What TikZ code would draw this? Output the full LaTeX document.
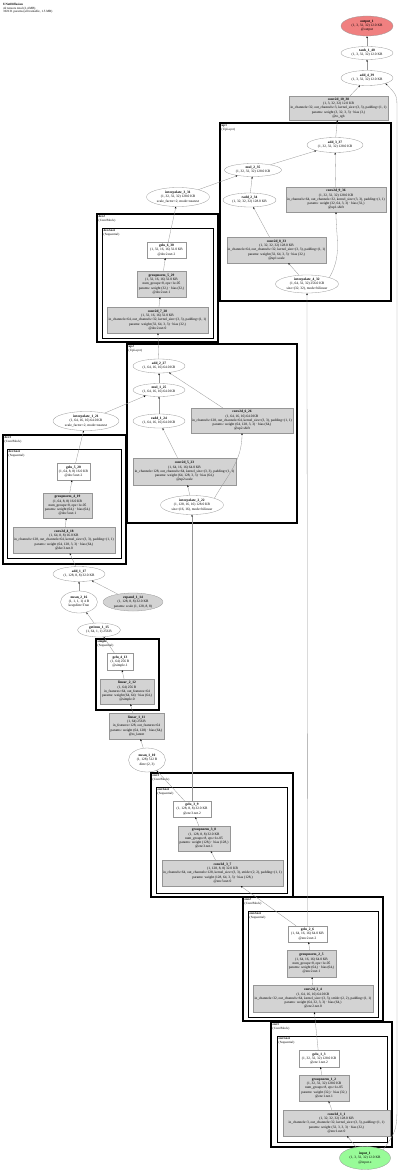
\documentclass[tikz,border=0pt]{standalone}
\usepackage{fontspec}
\setmainfont{Liberation Serif}
\usetikzlibrary{shapes.geometric,arrows.meta}
\definecolor{inputgreen}{RGB}{152,251,152}
\definecolor{outputred}{RGB}{240,128,128}
\definecolor{paramgray}{RGB}{211,211,211}
\definecolor{edgegray}{RGB}{150,150,150}

\begin{document}
\begin{tikzpicture}[x=1pt, y=-1pt,
  every node/.style={font=\fontsize{3.5}{4.2}\selectfont, align=center, inner sep=0.5pt},
  tensor/.style={draw=edgegray, ellipse, fill=white, line width=0.3pt},
  layer/.style={draw=edgegray, rectangle, fill=paramgray, line width=0.3pt},
  plain/.style={draw=edgegray, rectangle, fill=white, line width=0.3pt},
  module/.style={draw=black, line width=1.2pt},
  submodule/.style={draw=black, line width=0.9pt},
  tag/.style={anchor=north west, align=left, inner sep=0pt, font=\fontsize{3.2}{3.7}\selectfont},
  flow/.style={draw=edgegray, line width=0.3pt, -{Stealth[length=2pt,width=1.6pt,color=black]}}]
\useasboundingbox (0,0) rectangle (400,1172);

\node[tag] (title) at (3,3) {\textbf{UNetDiffusion}\\42 tensors total (2.4 MB)\\392131 params (all trainable, 1.5 MB)};

% clusters
\draw[module] (220,123) rectangle (391,301);
\node[tag] (up1_tag) at (221.5,124.5) {\textbf{up1}\\(UpLayer)};
\draw[module] (97,214) rectangle (218,342);
\node[tag] (dec2_tag) at (98.5,215.5) {\textbf{dec2}\\(ConvBlock)};
\draw[submodule] (102,228) rectangle (213,338);
\node[tag] (dec2net_tag) at (103.5,229.5) {\textbf{dec2.net}\\(Sequential)};
\draw[module] (127,344) rectangle (297,523);
\node[tag] (up2_tag) at (128.5,345.5) {\textbf{up2}\\(UpLayer)};
\draw[module] (3,435) rectangle (126,564);
\node[tag] (dec3_tag) at (4.5,436.5) {\textbf{dec3}\\(ConvBlock)};
\draw[submodule] (7,449) rectangle (121,558);
\node[tag] (dec3net_tag) at (8.5,450.5) {\textbf{dec3.net}\\(Sequential)};
\draw[module] (96,639) rectangle (159,710);
\node[tag] (simple_tag) at (97.5,640.5) {\textbf{simple}\\(Sequential)};
\draw[module] (151,773) rectangle (293,897);
\node[tag] (enc3_tag) at (152.5,774.5) {\textbf{enc3}\\(ConvBlock)};
\draw[submodule] (156,787) rectangle (287,893);
\node[tag] (enc3net_tag) at (157.5,788.5) {\textbf{enc3.net}\\(Sequential)};
\draw[module] (243,897) rectangle (383,1021);
\node[tag] (enc2_tag) at (244.5,898.5) {\textbf{enc2}\\(ConvBlock)};
\draw[submodule] (248,911) rectangle (378,1017);
\node[tag] (enc2net_tag) at (249.5,912.5) {\textbf{enc2.net}\\(Sequential)};
\draw[module] (271,1022) rectangle (392,1147);
\node[tag] (enc1_tag) at (272.5,1023.5) {\textbf{enc1}\\(ConvBlock)};
\draw[submodule] (277,1036) rectangle (387,1142);
\node[tag] (enc1net_tag) at (278.5,1037.5) {\textbf{enc1.net}\\(Sequential)};

% output side
\node[tensor, fill=outputred, minimum width=52, minimum height=20] (output_1) at (367,26) {\textbf{output\_1}\\(1, 3, 32, 32) 12.0 KB\\@output};
\node[tensor, minimum width=52, minimum height=13] (tanh_1_40) at (367,53) {\textbf{tanh\_1\_40}\\(1, 3, 32, 32) 12.0 KB};
\node[tensor, minimum width=52, minimum height=15] (add_4_39) at (367,78) {\textbf{add\_4\_39}\\(1, 3, 32, 32) 12.0 KB};
\node[layer, minimum width=99, minimum height=24] (conv2d_10_38) at (338.5,108) {\textbf{conv2d\_10\_38}\\(1, 3, 32, 32) 12.0 KB\\in\_channels=32, out\_channels=3, kernel\_size=(3, 3), padding=(1, 1)\\params: weight (3, 32, 3, 3) · bias (3,)\\@to\_rgb};

% up1
\node[tensor, minimum width=56, minimum height=15] (add_3_37) at (335,145) {\textbf{add\_3\_37}\\(1, 32, 32, 32) 128.0 KB};
\node[tensor, minimum width=57, minimum height=13] (mul_2_35) at (253,170) {\textbf{mul\_2\_35}\\(1, 32, 32, 32) 128.0 KB};
\node[layer, minimum width=100, minimum height=25] (conv2d_9_36) at (336,199.5) {\textbf{conv2d\_9\_36}\\(1, 32, 32, 32) 128.0 KB\\in\_channels=64, out\_channels=32, kernel\_size=(3, 3), padding=(1, 1)\\params: weight (32, 64, 3, 3) · bias (32,)\\@up1.shift};
\node[tensor, minimum width=53, minimum height=14] (radd_2_34) at (249.5,200) {\textbf{radd\_2\_34}\\(1, 32, 32, 32) 128.0 KB};
\node[tensor, minimum width=63, minimum height=19] (interpolate_3_31) at (178,197) {\textbf{interpolate\_3\_31}\\(1, 32, 32, 32) 128.0 KB\\scale\_factor=2, mode=nearest};
\node[layer, minimum width=99, minimum height=26] (conv2d_8_33) at (276.5,250) {\textbf{conv2d\_8\_33}\\(1, 32, 32, 32) 128.0 KB\\in\_channels=64, out\_channels=32, kernel\_size=(3, 3), padding=(1, 1)\\params: weight (32, 64, 3, 3) · bias (32,)\\@up1.scale};
\node[tensor, minimum width=63, minimum height=18] (interpolate_4_32) at (307,284) {\textbf{interpolate\_4\_32}\\(1, 64, 32, 32) 256.0 KB\\size=(32, 32), mode=bilinear};

% dec2
\node[plain, minimum width=39, minimum height=16] (gelu_6_30) at (166.5,250) {\textbf{gelu\_6\_30}\\(1, 32, 16, 16) 32.0 KB\\@dec2.net.2};
\node[layer, minimum width=49, minimum height=26] (groupnorm_5_29) at (161.5,284) {\textbf{groupnorm\_5\_29}\\(1, 32, 16, 16) 32.0 KB\\num\_groups=8, eps=1e-05\\params: weight (32,) · bias (32,)\\@dec2.net.1};
\node[layer, minimum width=101, minimum height=26] (conv2d_7_28) at (157.5,320) {\textbf{conv2d\_7\_28}\\(1, 32, 16, 16) 32.0 KB\\in\_channels=64, out\_channels=32, kernel\_size=(3, 3), padding=(1, 1)\\params: weight (32, 64, 3, 3) · bias (32,)\\@dec2.net.0};

% up2
\node[tensor, minimum width=52, minimum height=14] (add_2_27) at (159,366) {\textbf{add\_2\_27}\\(1, 64, 16, 16) 64.0 KB};
\node[tensor, minimum width=52, minimum height=13] (mul_1_25) at (159,390) {\textbf{mul\_1\_25}\\(1, 64, 16, 16) 64.0 KB};
\node[tensor, minimum width=52, minimum height=14] (radd_1_24) at (159,421) {\textbf{radd\_1\_24}\\(1, 64, 16, 16) 64.0 KB};
\node[layer, minimum width=102, minimum height=25] (conv2d_6_26) at (242,420.5) {\textbf{conv2d\_6\_26}\\(1, 64, 16, 16) 64.0 KB\\in\_channels=128, out\_channels=64, kernel\_size=(3, 3), padding=(1, 1)\\params: weight (64, 128, 3, 3) · bias (64,)\\@up2.shift};
\node[layer, minimum width=103, minimum height=27] (conv2d_5_23) at (184.5,471.5) {\textbf{conv2d\_5\_23}\\(1, 64, 16, 16) 64.0 KB\\in\_channels=128, out\_channels=64, kernel\_size=(3, 3), padding=(1, 1)\\params: weight (64, 128, 3, 3) · bias (64,)\\@up2.scale};
\node[tensor, minimum width=63, minimum height=19] (interpolate_2_22) at (192,505) {\textbf{interpolate\_2\_22}\\(1, 128, 16, 16) 128.0 KB\\size=(16, 16), mode=bilinear};
\node[tensor, minimum width=66, minimum height=19] (interpolate_1_21) at (86,421) {\textbf{interpolate\_1\_21}\\(1, 64, 16, 16) 64.0 KB\\scale\_factor=2, mode=nearest};

% dec3
\node[plain, minimum width=33, minimum height=17] (gelu_5_20) at (73.5,471.5) {\textbf{gelu\_5\_20}\\(1, 64, 8, 8) 16.0 KB\\@dec3.net.2};
\node[layer, minimum width=49, minimum height=25] (groupnorm_4_19) at (67.5,505.5) {\textbf{groupnorm\_4\_19}\\(1, 64, 8, 8) 16.0 KB\\num\_groups=8, eps=1e-05\\params: weight (64,) · bias (64,)\\@dec3.net.1};
\node[layer, minimum width=102, minimum height=26] (conv2d_4_18) at (64,540) {\textbf{conv2d\_4\_18}\\(1, 64, 8, 8) 16.0 KB\\in\_channels=128, out\_channels=64, kernel\_size=(3, 3), padding=(1, 1)\\params: weight (64, 128, 3, 3) · bias (64,)\\@dec3.net.0};

% time branch
\node[tensor, minimum width=52, minimum height=15] (add_1_17) at (79,574) {\textbf{add\_1\_17}\\(1, 128, 8, 8) 32.0 KB};
\node[tensor, minimum width=37, minimum height=22] (mean_2_16) at (79,602) {\textbf{mean\_2\_16}\\(1, 1, 1, 1) 4 B\\keepdim=True};
\node[tensor, fill=paramgray, minimum width=60, minimum height=18] (expand_1_14) at (133,602) {\textbf{expand\_1\_14}\\(1, 128, 8, 8) 32.0 KB\\params: scale (1, 128, 8, 8)};
\node[tensor, minimum width=43, minimum height=14] (getitem_1_15) at (99,630) {\textbf{getitem\_1\_15}\\(1, 64, 1, 1) 256 B};
\node[plain, minimum width=26, minimum height=17] (gelu_4_13) at (120,661.5) {\textbf{gelu\_4\_13}\\(1, 64) 256 B\\@simple.1};
\node[layer, minimum width=54, minimum height=25] (linear_2_12) at (127,691.5) {\textbf{linear\_2\_12}\\(1, 64) 256 B\\in\_features=64, out\_features=64\\params: weight (64, 64) · bias (64,)\\@simple.0};
\node[layer, minimum width=55, minimum height=26] (linear_1_11) at (136.5,726) {\textbf{linear\_1\_11}\\(1, 64) 256 B\\in\_features=128, out\_features=64\\params: weight (64, 128) · bias (64,)\\@to\_latent};
\node[tensor, minimum width=37, minimum height=24] (mean_1_10) at (147,760) {\textbf{mean\_1\_10}\\(1, 128) 512 B\\dim=(2, 3)};

% enc3
\node[plain, minimum width=38, minimum height=16] (gelu_3_9) at (192,809) {\textbf{gelu\_3\_9}\\(1, 128, 8, 8) 32.0 KB\\@enc3.net.2};
\node[layer, minimum width=52, minimum height=25] (groupnorm_3_8) at (204,838.5) {\textbf{groupnorm\_3\_8}\\(1, 128, 8, 8) 32.0 KB\\num\_groups=8, eps=1e-05\\params: weight (128,) · bias (128,)\\@enc3.net.1};
\node[layer, minimum width=121, minimum height=26] (conv2d_3_7) at (222.5,873) {\textbf{conv2d\_3\_7}\\(1, 128, 8, 8) 32.0 KB\\in\_channels=64, out\_channels=128, kernel\_size=(3, 3), stride=(2, 2), padding=(1, 1)\\params: weight (128, 64, 3, 3) · bias (128,)\\@enc3.net.0};

% enc2
\node[plain, minimum width=39, minimum height=16] (gelu_2_6) at (307.5,934) {\textbf{gelu\_2\_6}\\(1, 64, 16, 16) 64.0 KB\\@enc2.net.2};
\node[layer, minimum width=49, minimum height=27] (groupnorm_2_5) at (311.5,963.5) {\textbf{groupnorm\_2\_5}\\(1, 64, 16, 16) 64.0 KB\\num\_groups=8, eps=1e-05\\params: weight (64,) · bias (64,)\\@enc2.net.1};
\node[layer, minimum width=120, minimum height=27] (conv2d_2_4) at (313,998.5) {\textbf{conv2d\_2\_4}\\(1, 64, 16, 16) 64.0 KB\\in\_channels=32, out\_channels=64, kernel\_size=(3, 3), stride=(2, 2), padding=(1, 1)\\params: weight (64, 32, 3, 3) · bias (64,)\\@enc2.net.0};

% enc1
\node[plain, minimum width=40, minimum height=17] (gelu_1_3) at (319,1058.5) {\textbf{gelu\_1\_3}\\(1, 32, 32, 32) 128.0 KB\\@enc1.net.2};
\node[layer, minimum width=50, minimum height=26] (groupnorm_1_2) at (324,1088) {\textbf{groupnorm\_1\_2}\\(1, 32, 32, 32) 128.0 KB\\num\_groups=8, eps=1e-05\\params: weight (32,) · bias (32,)\\@enc1.net.1};
\node[layer, minimum width=107, minimum height=26] (conv2d_1_1) at (336.5,1123) {\textbf{conv2d\_1\_1}\\(1, 32, 32, 32) 128.0 KB\\in\_channels=3, out\_channels=32, kernel\_size=(3, 3), padding=(1, 1)\\params: weight (32, 3, 3, 3) · bias (32,)\\@enc1.net.0};
\node[tensor, fill=inputgreen, minimum width=51, minimum height=23] (input_1) at (365,1158) {\textbf{input\_1}\\(1, 3, 32, 32) 12.0 KB\\@input.x};

% connectors
\draw[flow] (input_1) -- (conv2d_1_1);
\draw[flow] (input_1.north east) .. controls (397,1130) .. (397,1100) -- (397,110) .. controls (397,95) .. (add_4_39.south east);
\draw[flow] (conv2d_1_1) -- (groupnorm_1_2);
\draw[flow] (groupnorm_1_2) -- (gelu_1_3);
\draw[flow] (gelu_1_3) -- (conv2d_2_4);
\draw[flow] (conv2d_2_4) -- (groupnorm_2_5);
\draw[flow] (groupnorm_2_5) -- (gelu_2_6);
\draw[flow] (gelu_2_6) -- (conv2d_3_7);
\draw[flow] (gelu_2_6) -- (interpolate_4_32);
\draw[flow] (conv2d_3_7) -- (groupnorm_3_8);
\draw[flow] (groupnorm_3_8) -- (gelu_3_9);
\draw[flow] (gelu_3_9) -- (mean_1_10);
\draw[flow] (gelu_3_9) -- (interpolate_2_22);
\draw[flow] (mean_1_10) -- (linear_1_11);
\draw[flow] (linear_1_11) -- (linear_2_12);
\draw[flow] (linear_2_12) -- (gelu_4_13);
\draw[flow] (gelu_4_13) -- (getitem_1_15);
\draw[flow] (getitem_1_15) -- (mean_2_16);
\draw[flow] (mean_2_16) -- (add_1_17);
\draw[flow] (expand_1_14) -- (add_1_17);
\draw[flow] (add_1_17) -- (conv2d_4_18);
\draw[flow] (conv2d_4_18) -- (groupnorm_4_19);
\draw[flow] (groupnorm_4_19) -- (gelu_5_20);
\draw[flow] (gelu_5_20) -- (interpolate_1_21);
\draw[flow] (interpolate_2_22) -- (conv2d_5_23);
\draw[flow] (interpolate_2_22.north east) to[out=60, in=-90] (conv2d_6_26.south);
\draw[flow] (conv2d_5_23) -- (radd_1_24);
\draw[flow] (radd_1_24) -- (mul_1_25);
\draw[flow] (interpolate_1_21) -- (mul_1_25);
\draw[flow] (mul_1_25) -- (add_2_27);
\draw[flow] (conv2d_6_26) -- (add_2_27);
\draw[flow] (add_2_27) -- (conv2d_7_28);
\draw[flow] (conv2d_7_28) -- (groupnorm_5_29);
\draw[flow] (groupnorm_5_29) -- (gelu_6_30);
\draw[flow] (gelu_6_30) -- (interpolate_3_31);
\draw[flow] (interpolate_4_32) -- (conv2d_8_33);
\draw[flow] (interpolate_4_32.north east) to[out=60, in=-90] (conv2d_9_36.south);
\draw[flow] (conv2d_8_33) -- (radd_2_34);
\draw[flow] (radd_2_34) -- (mul_2_35);
\draw[flow] (interpolate_3_31) -- (mul_2_35);
\draw[flow] (mul_2_35) -- (add_3_37);
\draw[flow] (conv2d_9_36) -- (add_3_37);
\draw[flow] (add_3_37) -- (conv2d_10_38);
\draw[flow] (conv2d_10_38) -- (add_4_39);
\draw[flow] (add_4_39) -- (tanh_1_40);
\draw[flow] (tanh_1_40) -- (output_1);
\end{tikzpicture}
\end{document}
